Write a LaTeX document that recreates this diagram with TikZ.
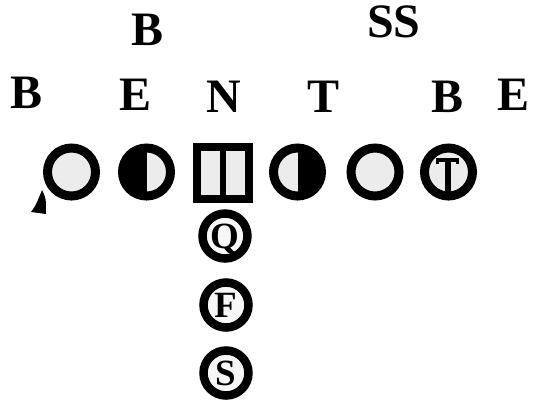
\documentclass[tikz,border=0pt]{standalone}
\usepackage{fontspec}
\setmainfont{Liberation Serif}
\usetikzlibrary{calc}
\begin{document}
\begin{tikzpicture}[x=1pt,y=-1pt,
  lbl/.style={font=\fontsize{48}{56}\selectfont\bfseries, inner sep=0pt, anchor=base},
  player/.style={circle, draw=black, line width=9pt, minimum size=48pt, inner sep=0pt, fill=gray!15},
  back/.style={circle, draw=black, line width=8.5pt, minimum size=45pt, inner sep=0pt, fill=gray!6,
     font=\fontsize{37}{40}\selectfont\bfseries, text height=24pt, text depth=0pt},
  lefthalf/.style={path picture={\fill[black] (path picture bounding box.north west) rectangle (path picture bounding box.south);}},
  righthalf/.style={path picture={\fill[black] (path picture bounding box.north) rectangle (path picture bounding box.south east);}},
  center/.style={rectangle, draw=black, line width=8pt, minimum size=52pt, inner sep=0pt, fill=gray!15,
     path picture={\fill[black] ([xshift=-3pt]path picture bounding box.north) rectangle ([xshift=3pt]path picture bounding box.south);}}
]
\useasboundingbox (0,0) rectangle (541,405);
% labels
\node[lbl] (lB1) at (148,45) {B};
\node[lbl] (lSS) at (394,37) {SS};
\node[lbl] (lB2) at (27,108) {B};
\node[lbl] (lE1) at (136,110) {E};
\node[lbl] (lN) at (224,112) {N};
\node[lbl] (lT) at (324,112) {T};
\node[lbl] (lB3) at (448,112) {B};
\node[lbl] (lE2) at (514,110) {E};
% line
\node[player] (p1) at (71.5,172) {};
\node[player, lefthalf] (p2) at (146.5,172) {};
\node[center] (c) at (222.5,173) {};
\node[player, righthalf] (p4) at (297.5,172) {};
\node[player] (p5) at (375,172) {};
\node[player] (p6) at (448.5,172) {};
\draw[line width=3.5pt] ($(p6)+(-11,-8)$) -- ($(p6)+(-11,-12)$) -- ($(p6)+(9,-12)$) -- ($(p6)+(9,-8)$);
\draw[line width=6pt] ($(p6)+(-1,-13)$) -- ($(p6)+(-1,25)$);
% backs
\node[back] (q) at (225,236) {Q};
\node[back] (f) at (226,305) {F};
\node[back] (s) at (226,373) {S};
% small mark
\fill[black] (42,190) .. controls (46,198) .. (46,214) -- (31,212) .. controls (36,205) .. (42,190) -- cycle;
\end{tikzpicture}
\end{document}
